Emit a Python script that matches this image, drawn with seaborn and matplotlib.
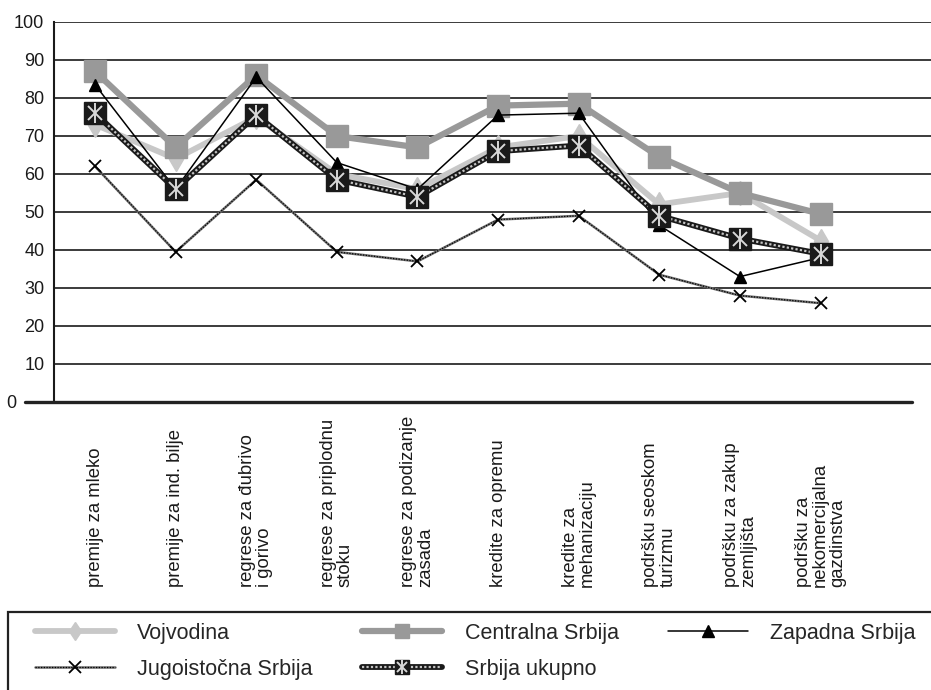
import numpy as np
import pandas as pd
import matplotlib.pyplot as plt
import seaborn as sns
from matplotlib.patches import Rectangle
from matplotlib.lines import Line2D
from matplotlib.legend_handler import HandlerLine2D

# categories (x axis) and values
categories = [
    'premije za mleko',
    'premije za ind. bilje',
    'regrese za đubrivo\ni gorivo',
    'regrese za priplodnu\nstoku',
    'regrese za podizanje\nzasada',
    'kredite za opremu',
    'kredite za\nmehanizaciju',
    'podršku seoskom\nturizmu',
    'podršku za zakup\nzemljišta',
    'podršku za\nnekomercijalna\ngazdinstva',
]
vojvodina = [73, 64, 75, 60, 56, 67, 70, 52, 55, 42.5]
centralna = [87, 67, 86, 70, 67, 78, 78.5, 64.5, 55, 49.5]
zapadna = [83.5, 56, 85.5, 63, 56, 75.5, 76, 46.5, 33, 38]
jugoistocna = [62, 39.5, 58.5, 39.5, 37, 48, 49, 33.5, 28, 26]
srbija = [76, 56, 75.5, 58.5, 54, 66, 67.5, 49, 43, 39]
yticks = list(range(0, 101, 10))

df = pd.DataFrame({
    'pos': np.arange(len(categories)),
    'Vojvodina': vojvodina,
    'Centralna Srbija': centralna,
    'Zapadna Srbija': zapadna,
    'Jugoistočna Srbija': jugoistocna,
    'Srbija ukupno': srbija,
})

sns.set_style('white')
plt.rcParams['font.family'] = ['Liberation Sans', 'DejaVu Sans']

fig = plt.figure(figsize=(9.31, 6.9), dpi=100)
ax = fig.add_axes([54 / 931, 1 - 402 / 690, 877 / 931, 380 / 690])


def line(col, **kw):
    kw.setdefault('mec', kw.get('color'))
    kw.setdefault('mew', 1)
    sns.lineplot(data=df, x='pos', y=col, ax=ax, errorbar=None, legend=False, **kw)
    return ax.lines[-1]


# Vojvodina - light gray thick line, diamonds
h_voj = line('Vojvodina', color='#c8c8c8', lw=4.2, marker='d', ms=12, zorder=3)

# Centralna Srbija - mid gray thick line, squares
h_cen = line('Centralna Srbija', color='#999999', lw=4.5, marker='s', ms=15.5, zorder=4)

# Zapadna Srbija - thin black line, triangles
h_zap = line('Zapadna Srbija', color='black', lw=1.1, marker='^', ms=9, zorder=5)

# Jugoistocna Srbija - thin patterned line, x markers
h_jug1 = line('Jugoistočna Srbija', color='#707070', lw=1.8, zorder=6)
h_jug2 = line('Jugoistočna Srbija', color='black', lw=0.9, ls=(0, (1, 1.2)), zorder=6)
h_jug3 = line('Jugoistočna Srbija', color='black', ls='none', marker='x', ms=8, mew=1.3, zorder=6)

# Srbija ukupno - thick checkered line, black squares with light asterisk
h_srb1 = line('Srbija ukupno', color='#1a1a1a', lw=4.2, zorder=7)
h_srb2 = line('Srbija ukupno', color='#c4c4c4', lw=1.6, ls=(0, (1, 1)), zorder=7)
h_srb3 = line('Srbija ukupno', color='#1a1a1a', ls='none', marker='s', ms=16, zorder=8)
h_srb4 = line('Srbija ukupno', color='#d8d8d8', ls='none', marker='x', ms=10, mew=1.4, zorder=9)
h_srb5 = line('Srbija ukupno', color='#d8d8d8', ls='none', marker='|', ms=15, mew=1.4, zorder=9)

# axes, grid
ax.set_xlim(-0.509, 10.37)
ax.set_ylim(0, 100)
ax.set_yticks(yticks)
ax.yaxis.grid(True, color='#1a1a1a', lw=1.2)
ax.set_axisbelow(True)
ax.yaxis.get_gridlines()[0].set_visible(False)
for s in ['top', 'right', 'bottom']:
    ax.spines[s].set_visible(False)
ax.spines['left'].set_color('#1a1a1a')
ax.spines['left'].set_linewidth(1.5)
ax.axhline(0, xmin=-0.033, xmax=0.978, color='#222222', lw=2.4, clip_on=False, zorder=10)

ax.set_xlabel('')
ax.set_ylabel('')
ax.tick_params(axis='y', length=0, pad=7, labelsize=13, labelcolor='#1a1a1a')
ax.tick_params(axis='x', length=0, pad=133, labelsize=13.3, labelcolor='#1a1a1a')
ax.set_xticks(df['pos'])
ax.set_xticklabels(categories, rotation=90, va='bottom', ha='center',
                   multialignment='left', linespacing=1.0)
# the "0" label sits left of the extended baseline
ax.yaxis.get_major_ticks()[0].set_pad(27)

# smaller square / diamond markers in the legend
legend_scale = {h_voj: 0.8, h_cen: 0.65, h_srb3: 0.65, h_srb4: 0.65, h_srb5: 0.65}


def shrink(legend_line, orig):
    legend_line.update_from(orig)
    legend_line.set_markersize(orig.get_markersize() * legend_scale.get(orig, 1.0))


hmap = {Line2D: HandlerLine2D(update_func=shrink)}

# legend (row-major order with ncol=3)
handles = [h_voj, (h_jug1, h_jug2, h_jug3), h_cen,
           (h_srb1, h_srb2, h_srb3, h_srb4, h_srb5), h_zap]
labels = ['Vojvodina', 'Jugoistočna Srbija', 'Centralna Srbija',
          'Srbija ukupno', 'Zapadna Srbija']
fig.legend(handles, labels, loc='upper left', bbox_to_anchor=(35 / 931, 1 - 623 / 690),
           ncol=3, frameon=False, prop={'size': 15.5}, handler_map=hmap,
           handlelength=3.7, handletextpad=1.05, columnspacing=2.3,
           labelspacing=0.68, borderpad=0, borderaxespad=0)
fig.add_artist(Rectangle((8 / 931, -0.1), 1.2, 0.1 + 1 - 612 / 690,
                         transform=fig.transFigure, fill=False, ec='#222222', lw=1.6))

fig.savefig('out.png', dpi=100)
